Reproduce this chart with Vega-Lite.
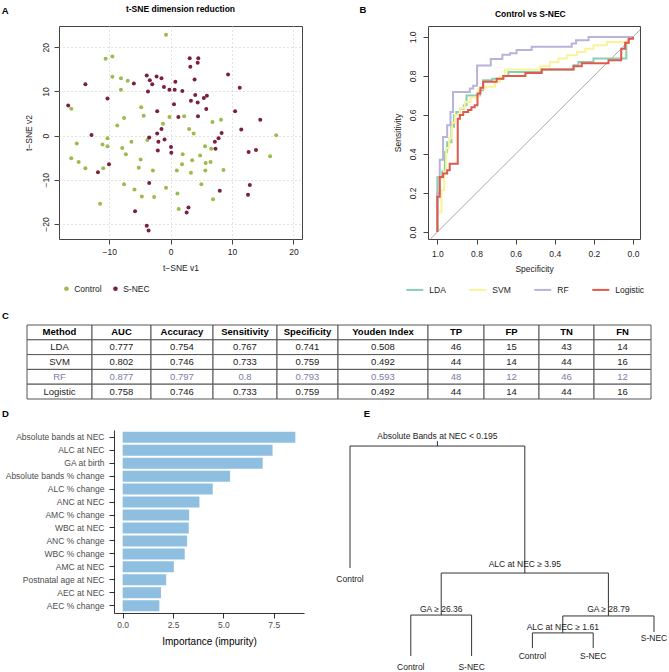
{
"$schema":"https://vega.github.io/schema/vega-lite/v6.json",
"background":"white",
"padding":{"left":1,"top":4,"right":0,"bottom":0},
"config":{"font":"Liberation Sans","view":{"stroke":null},
"axis":{"labelFont":"Liberation Sans","titleFont":"Liberation Sans"},"legend":{"labelFont":"Liberation Sans"}},
"datasets":{
"tsne":[
{"v1":-0.76,"v2":22.8,"group":"Control"},{"v1":-10.6,"v2":17.4,"group":"Control"},{"v1":-9.5,"v2":17.9,"group":"Control"},{"v1":-9.5,"v2":13.3,"group":"Control"},{"v1":-8.1,"v2":13.0,"group":"Control"},{"v1":-7.0,"v2":12.4,"group":"Control"},{"v1":-8.1,"v2":10.4,"group":"Control"},{"v1":-16.2,"v2":6.1,"group":"Control"},{"v1":-4.8,"v2":6.4,"group":"Control"},{"v1":-7.6,"v2":4.0,"group":"Control"},{"v1":-4.4,"v2":4.5,"group":"Control"},{"v1":-8.7,"v2":2.3,"group":"Control"},{"v1":-1.25,"v2":2.7,"group":"Control"},{"v1":-0.2,"v2":4.2,"group":"Control"},{"v1":2.2,"v2":4.4,"group":"Control"},{"v1":6.8,"v2":3.1,"group":"Control"},{"v1":8.2,"v2":3.6,"group":"Control"},{"v1":3.0,"v2":1.5,"group":"Control"},{"v1":3.75,"v2":0.45,"group":"Control"},{"v1":17.2,"v2":0.1,"group":"Control"},{"v1":-15.3,"v2":-1.8,"group":"Control"},{"v1":-10.3,"v2":-0.6,"group":"Control"},{"v1":-11.1,"v2":-2.0,"group":"Control"},{"v1":-10.3,"v2":-2.4,"group":"Control"},{"v1":-7.9,"v2":-2.8,"group":"Control"},{"v1":-6.4,"v2":-1.4,"group":"Control"},{"v1":-3.8,"v2":-1.0,"group":"Control"},{"v1":-16.2,"v2":-5.1,"group":"Control"},{"v1":-15.0,"v2":-6.0,"group":"Control"},{"v1":-7.3,"v2":-4.2,"group":"Control"},{"v1":-4.9,"v2":-5.4,"group":"Control"},{"v1":-5.2,"v2":-7.3,"group":"Control"},{"v1":-13.9,"v2":-7.4,"group":"Control"},{"v1":-11.0,"v2":-7.4,"group":"Control"},{"v1":-2.9,"v2":-7.9,"group":"Control"},{"v1":1.96,"v2":-4.2,"group":"Control"},{"v1":1.85,"v2":-6.5,"group":"Control"},{"v1":1.0,"v2":-7.9,"group":"Control"},{"v1":3.5,"v2":-5.6,"group":"Control"},{"v1":3.3,"v2":-8.4,"group":"Control"},{"v1":5.6,"v2":-2.4,"group":"Control"},{"v1":4.8,"v2":-4.5,"group":"Control"},{"v1":5.7,"v2":-6.2,"group":"Control"},{"v1":6.5,"v2":-6.0,"group":"Control"},{"v1":6.6,"v2":-3.0,"group":"Control"},{"v1":5.65,"v2":-7.9,"group":"Control"},{"v1":8.6,"v2":-7.8,"group":"Control"},{"v1":16.2,"v2":-4.7,"group":"Control"},{"v1":-7.6,"v2":-11.0,"group":"Control"},{"v1":-5.9,"v2":-12.2,"group":"Control"},{"v1":-4.7,"v2":-13.8,"group":"Control"},{"v1":-2.7,"v2":-13.9,"group":"Control"},{"v1":-0.76,"v2":-11.8,"group":"Control"},{"v1":1.1,"v2":-13.1,"group":"Control"},{"v1":5.0,"v2":-11.0,"group":"Control"},{"v1":-11.5,"v2":-15.4,"group":"Control"},{"v1":1.3,"v2":-16.6,"group":"Control"},{"v1":6.9,"v2":-14.4,"group":"Control"},
{"v1":3.1,"v2":17.5,"group":"S-NEC"},{"v1":4.5,"v2":17.5,"group":"S-NEC"},{"v1":4.4,"v2":16.5,"group":"S-NEC"},{"v1":3.2,"v2":15.6,"group":"S-NEC"},{"v1":9.35,"v2":13.8,"group":"S-NEC"},{"v1":-3.9,"v2":13.6,"group":"S-NEC"},{"v1":-2.3,"v2":13.4,"group":"S-NEC"},{"v1":-1.5,"v2":13.0,"group":"S-NEC"},{"v1":-3.4,"v2":12.5,"group":"S-NEC"},{"v1":-3.0,"v2":11.6,"group":"S-NEC"},{"v1":0.76,"v2":12.2,"group":"S-NEC"},{"v1":3.9,"v2":12.7,"group":"S-NEC"},{"v1":-13.9,"v2":11.6,"group":"S-NEC"},{"v1":-6.0,"v2":11.8,"group":"S-NEC"},{"v1":-3.7,"v2":10.0,"group":"S-NEC"},{"v1":-1.1,"v2":11.0,"group":"S-NEC"},{"v1":-0.2,"v2":10.4,"group":"S-NEC"},{"v1":0.65,"v2":10.4,"group":"S-NEC"},{"v1":1.9,"v2":10.1,"group":"S-NEC"},{"v1":11.25,"v2":10.8,"group":"S-NEC"},{"v1":-10.3,"v2":8.4,"group":"S-NEC"},{"v1":4.0,"v2":9.2,"group":"S-NEC"},{"v1":5.4,"v2":8.5,"group":"S-NEC"},{"v1":5.9,"v2":9.0,"group":"S-NEC"},{"v1":3.3,"v2":7.9,"group":"S-NEC"},{"v1":4.4,"v2":7.5,"group":"S-NEC"},{"v1":0.54,"v2":7.1,"group":"S-NEC"},{"v1":-16.7,"v2":6.8,"group":"S-NEC"},{"v1":5.8,"v2":6.0,"group":"S-NEC"},{"v1":-2.2,"v2":5.5,"group":"S-NEC"},{"v1":10.5,"v2":5.5,"group":"S-NEC"},{"v1":1.25,"v2":4.2,"group":"S-NEC"},{"v1":4.45,"v2":4.4,"group":"S-NEC"},{"v1":14.6,"v2":3.6,"group":"S-NEC"},{"v1":-1.5,"v2":1.5,"group":"S-NEC"},{"v1":11.5,"v2":1.4,"group":"S-NEC"},{"v1":-12.9,"v2":0.15,"group":"S-NEC"},{"v1":-2.2,"v2":0.45,"group":"S-NEC"},{"v1":-3.5,"v2":-0.45,"group":"S-NEC"},{"v1":-1.0,"v2":-0.9,"group":"S-NEC"},{"v1":8.3,"v2":0.6,"group":"S-NEC"},{"v1":7.8,"v2":-0.6,"group":"S-NEC"},{"v1":7.2,"v2":-1.4,"group":"S-NEC"},{"v1":-2.0,"v2":-1.4,"group":"S-NEC"},{"v1":0.05,"v2":-2.6,"group":"S-NEC"},{"v1":7.3,"v2":-3.0,"group":"S-NEC"},{"v1":-2.1,"v2":-3.4,"group":"S-NEC"},{"v1":0.1,"v2":-3.9,"group":"S-NEC"},{"v1":12.7,"v2":-3.7,"group":"S-NEC"},{"v1":13.9,"v2":-3.25,"group":"S-NEC"},{"v1":-10.05,"v2":-6.5,"group":"S-NEC"},{"v1":-11.85,"v2":-8.3,"group":"S-NEC"},{"v1":-3.5,"v2":-10.7,"group":"S-NEC"},{"v1":12.9,"v2":-11.2,"group":"S-NEC"},{"v1":8.0,"v2":-12.5,"group":"S-NEC"},{"v1":12.6,"v2":-13.4,"group":"S-NEC"},{"v1":-5.8,"v2":-17.1,"group":"S-NEC"},{"v1":2.9,"v2":-16.3,"group":"S-NEC"},{"v1":2.6,"v2":-17.4,"group":"S-NEC"},{"v1":-3.9,"v2":-20.4,"group":"S-NEC"},{"v1":-3.6,"v2":-21.5,"group":"S-NEC"}
],
"roc":[
{"m":"LDA","i":0,"sp":1,"se":0},{"m":"LDA","i":1,"sp":1,"se":0.28},{"m":"LDA","i":2,"sp":0.975,"se":0.28},{"m":"LDA","i":3,"sp":0.975,"se":0.31},{"m":"LDA","i":4,"sp":0.962,"se":0.31},{"m":"LDA","i":5,"sp":0.962,"se":0.41},{"m":"LDA","i":6,"sp":0.95,"se":0.41},{"m":"LDA","i":7,"sp":0.95,"se":0.46},{"m":"LDA","i":8,"sp":0.928,"se":0.46},{"m":"LDA","i":9,"sp":0.928,"se":0.54},{"m":"LDA","i":10,"sp":0.915,"se":0.54},{"m":"LDA","i":11,"sp":0.915,"se":0.6},{"m":"LDA","i":12,"sp":0.903,"se":0.6},{"m":"LDA","i":13,"sp":0.903,"se":0.615},{"m":"LDA","i":14,"sp":0.885,"se":0.615},{"m":"LDA","i":15,"sp":0.885,"se":0.632},{"m":"LDA","i":16,"sp":0.865,"se":0.632},{"m":"LDA","i":17,"sp":0.865,"se":0.65},{"m":"LDA","i":18,"sp":0.851,"se":0.65},{"m":"LDA","i":19,"sp":0.851,"se":0.7},{"m":"LDA","i":20,"sp":0.783,"se":0.7},{"m":"LDA","i":21,"sp":0.783,"se":0.726},{"m":"LDA","i":22,"sp":0.766,"se":0.726},{"m":"LDA","i":23,"sp":0.766,"se":0.778},{"m":"LDA","i":24,"sp":0.72,"se":0.778},{"m":"LDA","i":25,"sp":0.72,"se":0.785},{"m":"LDA","i":26,"sp":0.663,"se":0.785},{"m":"LDA","i":27,"sp":0.663,"se":0.8},{"m":"LDA","i":28,"sp":0.637,"se":0.8},{"m":"LDA","i":29,"sp":0.637,"se":0.82},{"m":"LDA","i":30,"sp":0.467,"se":0.82},{"m":"LDA","i":31,"sp":0.467,"se":0.833},{"m":"LDA","i":32,"sp":0.304,"se":0.833},{"m":"LDA","i":33,"sp":0.304,"se":0.855},{"m":"LDA","i":34,"sp":0.279,"se":0.855},{"m":"LDA","i":35,"sp":0.279,"se":0.872},{"m":"LDA","i":36,"sp":0.202,"se":0.872},{"m":"LDA","i":37,"sp":0.202,"se":0.889},{"m":"LDA","i":38,"sp":0.034,"se":0.889},{"m":"LDA","i":39,"sp":0.034,"se":0.97},{"m":"LDA","i":40,"sp":0.02,"se":0.97},{"m":"LDA","i":41,"sp":0.02,"se":1},{"m":"LDA","i":42,"sp":0,"se":1},
{"m":"SVM","i":0,"sp":1,"se":0},{"m":"SVM","i":1,"sp":1,"se":0.1},{"m":"SVM","i":2,"sp":0.979,"se":0.1},{"m":"SVM","i":3,"sp":0.979,"se":0.214},{"m":"SVM","i":4,"sp":0.966,"se":0.214},{"m":"SVM","i":5,"sp":0.966,"se":0.31},{"m":"SVM","i":6,"sp":0.955,"se":0.31},{"m":"SVM","i":7,"sp":0.955,"se":0.43},{"m":"SVM","i":8,"sp":0.94,"se":0.43},{"m":"SVM","i":9,"sp":0.94,"se":0.48},{"m":"SVM","i":10,"sp":0.925,"se":0.48},{"m":"SVM","i":11,"sp":0.925,"se":0.56},{"m":"SVM","i":12,"sp":0.91,"se":0.56},{"m":"SVM","i":13,"sp":0.91,"se":0.6},{"m":"SVM","i":14,"sp":0.885,"se":0.6},{"m":"SVM","i":15,"sp":0.885,"se":0.635},{"m":"SVM","i":16,"sp":0.86,"se":0.635},{"m":"SVM","i":17,"sp":0.86,"se":0.667},{"m":"SVM","i":18,"sp":0.83,"se":0.667},{"m":"SVM","i":19,"sp":0.83,"se":0.69},{"m":"SVM","i":20,"sp":0.79,"se":0.69},{"m":"SVM","i":21,"sp":0.79,"se":0.735},{"m":"SVM","i":22,"sp":0.757,"se":0.735},{"m":"SVM","i":23,"sp":0.757,"se":0.745},{"m":"SVM","i":24,"sp":0.706,"se":0.745},{"m":"SVM","i":25,"sp":0.706,"se":0.77},{"m":"SVM","i":26,"sp":0.68,"se":0.77},{"m":"SVM","i":27,"sp":0.68,"se":0.795},{"m":"SVM","i":28,"sp":0.655,"se":0.795},{"m":"SVM","i":29,"sp":0.655,"se":0.833},{"m":"SVM","i":30,"sp":0.475,"se":0.833},{"m":"SVM","i":31,"sp":0.475,"se":0.85},{"m":"SVM","i":32,"sp":0.424,"se":0.85},{"m":"SVM","i":33,"sp":0.424,"se":0.872},{"m":"SVM","i":34,"sp":0.381,"se":0.872},{"m":"SVM","i":35,"sp":0.381,"se":0.889},{"m":"SVM","i":36,"sp":0.338,"se":0.889},{"m":"SVM","i":37,"sp":0.338,"se":0.906},{"m":"SVM","i":38,"sp":0.287,"se":0.906},{"m":"SVM","i":39,"sp":0.287,"se":0.923},{"m":"SVM","i":40,"sp":0.244,"se":0.923},{"m":"SVM","i":41,"sp":0.244,"se":0.94},{"m":"SVM","i":42,"sp":0.202,"se":0.94},{"m":"SVM","i":43,"sp":0.202,"se":0.957},{"m":"SVM","i":44,"sp":0.133,"se":0.957},{"m":"SVM","i":45,"sp":0.133,"se":0.974},{"m":"SVM","i":46,"sp":0.031,"se":0.974},{"m":"SVM","i":47,"sp":0.031,"se":0.983},{"m":"SVM","i":48,"sp":0.022,"se":0.983},{"m":"SVM","i":49,"sp":0.022,"se":1},{"m":"SVM","i":50,"sp":0,"se":1},
{"m":"RF","i":0,"sp":1,"se":0},{"m":"RF","i":1,"sp":1,"se":0.2},{"m":"RF","i":2,"sp":0.988,"se":0.2},{"m":"RF","i":3,"sp":0.988,"se":0.37},{"m":"RF","i":4,"sp":0.971,"se":0.37},{"m":"RF","i":5,"sp":0.971,"se":0.487},{"m":"RF","i":6,"sp":0.95,"se":0.487},{"m":"RF","i":7,"sp":0.95,"se":0.547},{"m":"RF","i":8,"sp":0.933,"se":0.547},{"m":"RF","i":9,"sp":0.933,"se":0.615},{"m":"RF","i":10,"sp":0.92,"se":0.615},{"m":"RF","i":11,"sp":0.92,"se":0.718},{"m":"RF","i":12,"sp":0.834,"se":0.718},{"m":"RF","i":13,"sp":0.834,"se":0.735},{"m":"RF","i":14,"sp":0.817,"se":0.735},{"m":"RF","i":15,"sp":0.817,"se":0.75},{"m":"RF","i":16,"sp":0.797,"se":0.75},{"m":"RF","i":17,"sp":0.797,"se":0.853},{"m":"RF","i":18,"sp":0.727,"se":0.853},{"m":"RF","i":19,"sp":0.727,"se":0.887},{"m":"RF","i":20,"sp":0.668,"se":0.887},{"m":"RF","i":21,"sp":0.668,"se":0.908},{"m":"RF","i":22,"sp":0.629,"se":0.908},{"m":"RF","i":23,"sp":0.629,"se":0.916},{"m":"RF","i":24,"sp":0.595,"se":0.916},{"m":"RF","i":25,"sp":0.595,"se":0.933},{"m":"RF","i":26,"sp":0.518,"se":0.933},{"m":"RF","i":27,"sp":0.518,"se":0.949},{"m":"RF","i":28,"sp":0.313,"se":0.949},{"m":"RF","i":29,"sp":0.313,"se":0.966},{"m":"RF","i":30,"sp":0.291,"se":0.966},{"m":"RF","i":31,"sp":0.291,"se":0.983},{"m":"RF","i":32,"sp":0.227,"se":0.983},{"m":"RF","i":33,"sp":0.227,"se":1},{"m":"RF","i":34,"sp":0,"se":1},
{"m":"Logistic","i":0,"sp":1,"se":0},{"m":"Logistic","i":1,"sp":1,"se":0.18},{"m":"Logistic","i":2,"sp":0.988,"se":0.18},{"m":"Logistic","i":3,"sp":0.988,"se":0.282},{"m":"Logistic","i":4,"sp":0.971,"se":0.282},{"m":"Logistic","i":5,"sp":0.971,"se":0.3},{"m":"Logistic","i":6,"sp":0.95,"se":0.3},{"m":"Logistic","i":7,"sp":0.95,"se":0.316},{"m":"Logistic","i":8,"sp":0.937,"se":0.316},{"m":"Logistic","i":9,"sp":0.937,"se":0.35},{"m":"Logistic","i":10,"sp":0.896,"se":0.35},{"m":"Logistic","i":11,"sp":0.896,"se":0.58},{"m":"Logistic","i":12,"sp":0.885,"se":0.58},{"m":"Logistic","i":13,"sp":0.885,"se":0.6},{"m":"Logistic","i":14,"sp":0.868,"se":0.6},{"m":"Logistic","i":15,"sp":0.868,"se":0.615},{"m":"Logistic","i":16,"sp":0.843,"se":0.615},{"m":"Logistic","i":17,"sp":0.843,"se":0.625},{"m":"Logistic","i":18,"sp":0.826,"se":0.625},{"m":"Logistic","i":19,"sp":0.826,"se":0.64},{"m":"Logistic","i":20,"sp":0.809,"se":0.64},{"m":"Logistic","i":21,"sp":0.809,"se":0.65},{"m":"Logistic","i":22,"sp":0.795,"se":0.65},{"m":"Logistic","i":23,"sp":0.795,"se":0.71},{"m":"Logistic","i":24,"sp":0.78,"se":0.71},{"m":"Logistic","i":25,"sp":0.78,"se":0.74},{"m":"Logistic","i":26,"sp":0.766,"se":0.74},{"m":"Logistic","i":27,"sp":0.766,"se":0.77},{"m":"Logistic","i":28,"sp":0.697,"se":0.77},{"m":"Logistic","i":29,"sp":0.697,"se":0.786},{"m":"Logistic","i":30,"sp":0.663,"se":0.786},{"m":"Logistic","i":31,"sp":0.663,"se":0.8},{"m":"Logistic","i":32,"sp":0.55,"se":0.8},{"m":"Logistic","i":33,"sp":0.55,"se":0.815},{"m":"Logistic","i":34,"sp":0.467,"se":0.815},{"m":"Logistic","i":35,"sp":0.467,"se":0.833},{"m":"Logistic","i":36,"sp":0.304,"se":0.833},{"m":"Logistic","i":37,"sp":0.304,"se":0.85},{"m":"Logistic","i":38,"sp":0.262,"se":0.85},{"m":"Logistic","i":39,"sp":0.262,"se":0.865},{"m":"Logistic","i":40,"sp":0.125,"se":0.865},{"m":"Logistic","i":41,"sp":0.125,"se":0.88},{"m":"Logistic","i":42,"sp":0.06,"se":0.88},{"m":"Logistic","i":43,"sp":0.06,"se":0.94},{"m":"Logistic","i":44,"sp":0.04,"se":0.94},{"m":"Logistic","i":45,"sp":0.04,"se":0.97},{"m":"Logistic","i":46,"sp":0.022,"se":0.97},{"m":"Logistic","i":47,"sp":0.022,"se":0.99},{"m":"Logistic","i":48,"sp":0,"se":0.99},{"m":"Logistic","i":49,"sp":0,"se":1}
],
"imp":[
{"f":"Absolute bands at NEC","v":8.57},{"f":"ALC at NEC","v":7.44},{"f":"GA at birth","v":6.95},{"f":"Absolute bands % change","v":5.33},{"f":"ALC % change","v":4.47},{"f":"ANC at NEC","v":3.81},{"f":"AMC % change","v":3.30},{"f":"WBC at NEC","v":3.28},{"f":"ANC % change","v":3.20},{"f":"WBC % change","v":3.08},{"f":"AMC at NEC","v":2.54},{"f":"Postnatal age at NEC","v":2.16},{"f":"AEC at NEC","v":1.90},{"f":"AEC % change","v":1.82}
],
"tbl":[
{"Method":"Method","AUC":"AUC","Accuracy":"Accuracy","Sensitivity":"Sensitivity","Specificity":"Specificity","Youden Index":"Youden Index","TP":"TP","FP":"FP","TN":"TN","FN":"FN"},
{"Method":"LDA","AUC":"0.777","Accuracy":"0.754","Sensitivity":"0.767","Specificity":"0.741","Youden Index":"0.508","TP":"46","FP":"15","TN":"43","FN":"14"},
{"Method":"SVM","AUC":"0.802","Accuracy":"0.746","Sensitivity":"0.733","Specificity":"0.759","Youden Index":"0.492","TP":"44","FP":"14","TN":"44","FN":"16"},
{"Method":"RF","AUC":"0.877","Accuracy":"0.797","Sensitivity":"0.8","Specificity":"0.793","Youden Index":"0.593","TP":"48","FP":"12","TN":"46","FN":"12"},
{"Method":"Logistic","AUC":"0.758","Accuracy":"0.746","Sensitivity":"0.733","Specificity":"0.759","Youden Index":"0.492","TP":"44","FP":"14","TN":"44","FN":"16"}
],
"cols":[
{"col":"Method","x0":0,"x1":65,"xm":32.5},{"col":"AUC","x0":65,"x1":124,"xm":94.5},{"col":"Accuracy","x0":124,"x1":186,"xm":155},{"col":"Sensitivity","x0":186,"x1":250,"xm":218},{"col":"Specificity","x0":250,"x1":311,"xm":280.5},{"col":"Youden Index","x0":311,"x1":401,"xm":356},{"col":"TP","x0":401,"x1":457,"xm":429},{"col":"FP","x0":457,"x1":512,"xm":484.5},{"col":"TN","x0":512,"x1":567,"xm":539.5},{"col":"FN","x0":567,"x1":624,"xm":595.5}
],
"segs":[
{"x":1,"y":1.0,"x2":3.875,"y2":1.0},{"x":2.4375,"y":1.0,"x2":2.4375,"y2":1.022},{"x":1,"y":1.0,"x2":1,"y2":0.46},{"x":3.875,"y":1.0,"x2":3.875,"y2":0.438},{"x":2.5,"y":0.438,"x2":5.25,"y2":0.438},{"x":2.5,"y":0.438,"x2":2.5,"y2":0.252},{"x":5.25,"y":0.438,"x2":5.25,"y2":0.248},{"x":2,"y":0.252,"x2":3,"y2":0.252},{"x":2,"y":0.252,"x2":2,"y2":0.071},{"x":3,"y":0.252,"x2":3,"y2":0.071},{"x":4.5,"y":0.248,"x2":6,"y2":0.248},{"x":4.5,"y":0.248,"x2":4.5,"y2":0.173},{"x":6,"y":0.248,"x2":6,"y2":0.177},{"x":4,"y":0.173,"x2":5,"y2":0.173},{"x":4,"y":0.173,"x2":4,"y2":0.106},{"x":5,"y":0.173,"x2":5,"y2":0.106}
],
"labs":[
{"x":2.4375,"y":1.044,"label":"Absolute Bands at NEC < 0.195"},{"x":3.875,"y":0.478,"label":"ALC at NEC ≥ 3.95"},{"x":2.5,"y":0.279,"label":"GA ≥ 26.36"},{"x":5.25,"y":0.279,"label":"GA ≥ 28.79"},{"x":4.5,"y":0.199,"label":"ALC at NEC ≥ 1.61"},{"x":1,"y":0.412,"label":"Control"},{"x":2,"y":0.022,"label":"Control"},{"x":3,"y":0.022,"label":"S-NEC"},{"x":4,"y":0.071,"label":"Control"},{"x":5,"y":0.071,"label":"S-NEC"},{"x":6,"y":0.15,"label":"S-NEC"}
]
},
"spacing":16,
"resolve":{"scale":{"x":"independent","y":"independent","color":"independent"},"legend":{"color":"independent"}},
"vconcat":[
{"spacing":56,
"resolve":{"scale":{"x":"independent","y":"independent","color":"independent"},"legend":{"color":"independent"}},
"hconcat":[
{"width":243,"height":213,
"view":{"stroke":"#444","strokeWidth":1},
"layer":[
{"data":{"name":"tsne"},
"mark":{"type":"circle","size":16,"opacity":1},
"encoding":{
"x":{"field":"v1","type":"quantitative","scale":{"domain":[-18.2,21.4],"nice":false,"zero":false},
"axis":{"values":[-10,0,10,20],"title":"t−SNE v1","grid":true,"gridDash":[1,3],"gridColor":"#c4c4c4","domain":false,"tickSize":5,"tickColor":"#444","labelFontSize":8.5,"labelColor":"#222","labelPadding":3,"labelFlush":false,"titleFontSize":8.5,"titleFontWeight":"normal","titlePadding":8,"titleColor":"#222"}},
"y":{"field":"v2","type":"quantitative","scale":{"domain":[-23.4,24.8],"nice":false,"zero":false},
"axis":{"values":[-20,-10,0,10,20],"title":"t−SNE v2","grid":true,"gridDash":[1,3],"gridColor":"#c4c4c4","domain":false,"tickSize":5,"tickColor":"#444","labelAngle":-90,"labelAlign":"center","labelBaseline":"bottom","labelPadding":4,"labelFontSize":8.5,"labelColor":"#222","titleFontSize":8.5,"titleFontWeight":"normal","titlePadding":8,"titleColor":"#222"}},
"color":{"field":"group","type":"nominal","scale":{"domain":["Control","S-NEC"],"range":["#9cbb4e","#7b1f3f"]},
"legend":{"title":null,"orient":"none","legendX":3.2,"legendY":258.5,"direction":"horizontal","gridAlign":"none","symbolType":"circle","symbolSize":22,"symbolOpacity":1,"labelFontSize":8.5,"labelColor":"#222","labelOffset":3.5,"columnPadding":9,"padding":0}}
}},
{"data":{"values":[{}]},
"mark":{"type":"text","text":"A","fontSize":9.5,"fontWeight":"bold","align":"left","baseline":"alphabetic","dx":-57.3,"dy":-12.3,"color":"#000"},
"encoding":{"x":{"datum":-18.2,"type":"quantitative"},"y":{"datum":24.8,"type":"quantitative"}}},
{"data":{"values":[{}]},
"mark":{"type":"text","text":"t-SNE dimension reduction","fontSize":8.5,"fontWeight":"bold","align":"center","baseline":"alphabetic","dy":-13.6,"color":"#000"},
"encoding":{"x":{"datum":1.6,"type":"quantitative"},"y":{"datum":24.8,"type":"quantitative"}}}
]},
{"width":212,"height":213,
"view":{"stroke":"#444","strokeWidth":1},
"layer":[
{"data":{"values":[{}]},
"mark":{"type":"rule","color":"#a8a8a8","strokeWidth":1},
"encoding":{"x":{"datum":1.036,"type":"quantitative"},"y":{"datum":-0.036,"type":"quantitative"},"x2":{"datum":-0.036},"y2":{"datum":1.036}}},
{"data":{"name":"roc"},
"mark":{"type":"line","strokeWidth":2},
"encoding":{
"x":{"field":"sp","type":"quantitative","scale":{"domain":[-0.036,1.048],"reverse":true,"nice":false,"zero":false},
"axis":{"values":[0,0.2,0.4,0.6,0.8,1],"format":".1f","title":"Specificity","grid":false,"domain":false,"tickSize":5,"tickColor":"#444","labelFontSize":8.5,"labelColor":"#222","labelPadding":5,"labelFlush":false,"titleFontSize":8.5,"titleFontWeight":"normal","titlePadding":7,"titleColor":"#222"}},
"y":{"field":"se","type":"quantitative","scale":{"domain":[-0.036,1.056],"nice":false,"zero":false},
"axis":{"values":[0,0.2,0.4,0.6,0.8,1],"format":".1f","title":"Sensitivity","grid":false,"domain":false,"tickSize":5,"tickColor":"#444","labelAngle":-90,"labelAlign":"center","labelBaseline":"bottom","labelPadding":5.5,"labelFontSize":8.5,"labelColor":"#222","titleFontSize":8.5,"titleFontWeight":"normal","titlePadding":6,"titleColor":"#222"}},
"color":{"field":"m","type":"nominal","scale":{"domain":["LDA","SVM","RF","Logistic"],"range":["#88cfb2","#fbf29a","#b7b3da","#df5a4c"]},
"legend":{"title":null,"orient":"none","legendX":-22.7,"legendY":254.4,"direction":"horizontal","gridAlign":"none","symbolType":"stroke","symbolSize":289,"symbolStrokeWidth":2,"labelFontSize":8.5,"labelColor":"#222","labelOffset":5,"columnPadding":19,"padding":0}},
"order":{"field":"i","type":"quantitative"}
}},
{"data":{"values":[{}]},
"mark":{"type":"text","text":"B","fontSize":9.5,"fontWeight":"bold","align":"left","baseline":"alphabetic","dx":-68.4,"dy":-12.8,"color":"#000"},
"encoding":{"x":{"datum":1.048,"type":"quantitative"},"y":{"datum":1.056,"type":"quantitative"}}},
{"data":{"values":[{}]},
"mark":{"type":"text","text":"Control vs S-NEC","fontSize":8.5,"fontWeight":"bold","align":"center","baseline":"alphabetic","dx":-3.7,"dy":-9,"color":"#000"},
"encoding":{"x":{"datum":0.506,"type":"quantitative"},"y":{"datum":1.056,"type":"quantitative"}}}
]}
]},
{"spacing":8,
"resolve":{"scale":{"x":"independent","y":"independent"}},
"vconcat":[
{"width":592,"height":74,
"layer":[
{"data":{"name":"tbl"},
"transform":[
{"fold":["Method","AUC","Accuracy","Sensitivity","Specificity","Youden Index","TP","FP","TN","FN"],"as":["col","val"]},
{"lookup":"col","from":{"data":{"name":"cols"},"key":"col","fields":["x0","x1","xm"]}}
],
"mark":{"type":"rect","fill":"white","stroke":"#555","strokeWidth":1},
"encoding":{"x":{"field":"x0","type":"quantitative","scale":{"domain":[0,624],"range":[-32,592],"nice":false,"zero":false},"axis":null},"x2":{"field":"x1"},
"y":{"field":"Method","type":"nominal","scale":{"type":"band","domain":["Method","LDA","SVM","RF","Logistic"],"paddingInner":0,"paddingOuter":0},"axis":null}}},
{"data":{"name":"tbl"},
"transform":[
{"fold":["Method","AUC","Accuracy","Sensitivity","Specificity","Youden Index","TP","FP","TN","FN"],"as":["col","val"]},
{"lookup":"col","from":{"data":{"name":"cols"},"key":"col","fields":["x0","x1","xm"]}},
{"filter":"datum.Method !== 'Method'"}],
"mark":{"type":"text","fontSize":9.5,"baseline":"middle"},
"encoding":{"x":{"field":"xm","type":"quantitative"},"y":{"field":"Method","type":"nominal"},"text":{"field":"val"},
"color":{"condition":{"test":"datum.Method === 'RF'","value":"#7c7ca8"},"value":"#222"}}},
{"data":{"name":"tbl"},
"transform":[
{"fold":["Method","AUC","Accuracy","Sensitivity","Specificity","Youden Index","TP","FP","TN","FN"],"as":["col","val"]},
{"lookup":"col","from":{"data":{"name":"cols"},"key":"col","fields":["x0","x1","xm"]}},
{"filter":"datum.Method === 'Method'"}],
"mark":{"type":"text","fontSize":9.5,"fontWeight":"bold","baseline":"middle","color":"#000"},
"encoding":{"x":{"field":"xm","type":"quantitative"},"y":{"field":"Method","type":"nominal"},"text":{"field":"val"}}},
{"data":{"values":[{}]},
"mark":{"type":"text","text":"C","fontSize":9.5,"fontWeight":"bold","align":"left","baseline":"alphabetic","dx":-25,"dy":-13.1,"color":"#000"},
"encoding":{"x":{"datum":0,"type":"quantitative"},"y":{"datum":"Method","type":"nominal"}}}
]},
{"spacing":32,
"resolve":{"scale":{"x":"independent","y":"independent"}},
"hconcat":[
{"width":245,"height":183,
"layer":[
{"data":{"name":"imp"},
"mark":{"type":"bar","color":"#8fbfe0"},
"encoding":{
"y":{"field":"f","type":"nominal","sort":null,"scale":{"paddingInner":0.15,"paddingOuter":0.137},
"axis":{"title":null,"offset":-55,"domainColor":"#000","domainWidth":0.8,"tickColor":"#333","tickSize":5,"labelFontSize":8.5,"labelColor":"#4d4d4d","labelPadding":5,"labelLimit":300}},
"x":{"field":"v","type":"quantitative","scale":{"domain":[-0.43,9.0],"range":[55,245],"nice":false,"zero":false},
"axis":{"values":[0,2.5,5,7.5],"format":".1f","title":"Importance (impurity)","titleFontSize":10,"titleFontWeight":"normal","titleColor":"#000","domainColor":"#000","domainWidth":0.8,"tickColor":"#333","tickSize":5,"labelFontSize":8.5,"labelColor":"#4d4d4d","labelPadding":2,"labelFlush":false,"titlePadding":8,"grid":false}},
"x2":{"datum":0}
}},
{"data":{"values":[{}]},
"mark":{"type":"text","text":"D","fontSize":9.5,"fontWeight":"bold","align":"left","baseline":"alphabetic","dx":-112,"dy":-20.6,"color":"#000"},
"encoding":{"x":{"datum":-0.43,"type":"quantitative"},"y":{"datum":"Absolute bands at NEC","type":"nominal"}}}
]},
{"width":330,"height":242,
"layer":[
{"data":{"name":"segs"},
"mark":{"type":"rule","color":"#333","strokeWidth":1},
"encoding":{"x":{"field":"x","type":"quantitative","scale":{"domain":[0.786,6.214],"nice":false,"zero":false},"axis":null},
"y":{"field":"y","type":"quantitative","scale":{"domain":[0,1.071],"nice":false,"zero":false},"axis":null},
"x2":{"field":"x2"},"y2":{"field":"y2"}}},
{"data":{"name":"labs"},
"mark":{"type":"text","fontSize":8.5,"color":"#222","baseline":"middle"},
"encoding":{"x":{"field":"x","type":"quantitative"},"y":{"field":"y","type":"quantitative"},"text":{"field":"label"}}},
{"data":{"values":[{}]},
"mark":{"type":"text","text":"E","fontSize":9.5,"fontWeight":"bold","align":"left","baseline":"alphabetic","dx":26.7,"dy":-13.3,"color":"#000"},
"encoding":{"x":{"datum":0.786,"type":"quantitative"},"y":{"datum":1.071,"type":"quantitative"}}}
]}
]}
]}
]
}
